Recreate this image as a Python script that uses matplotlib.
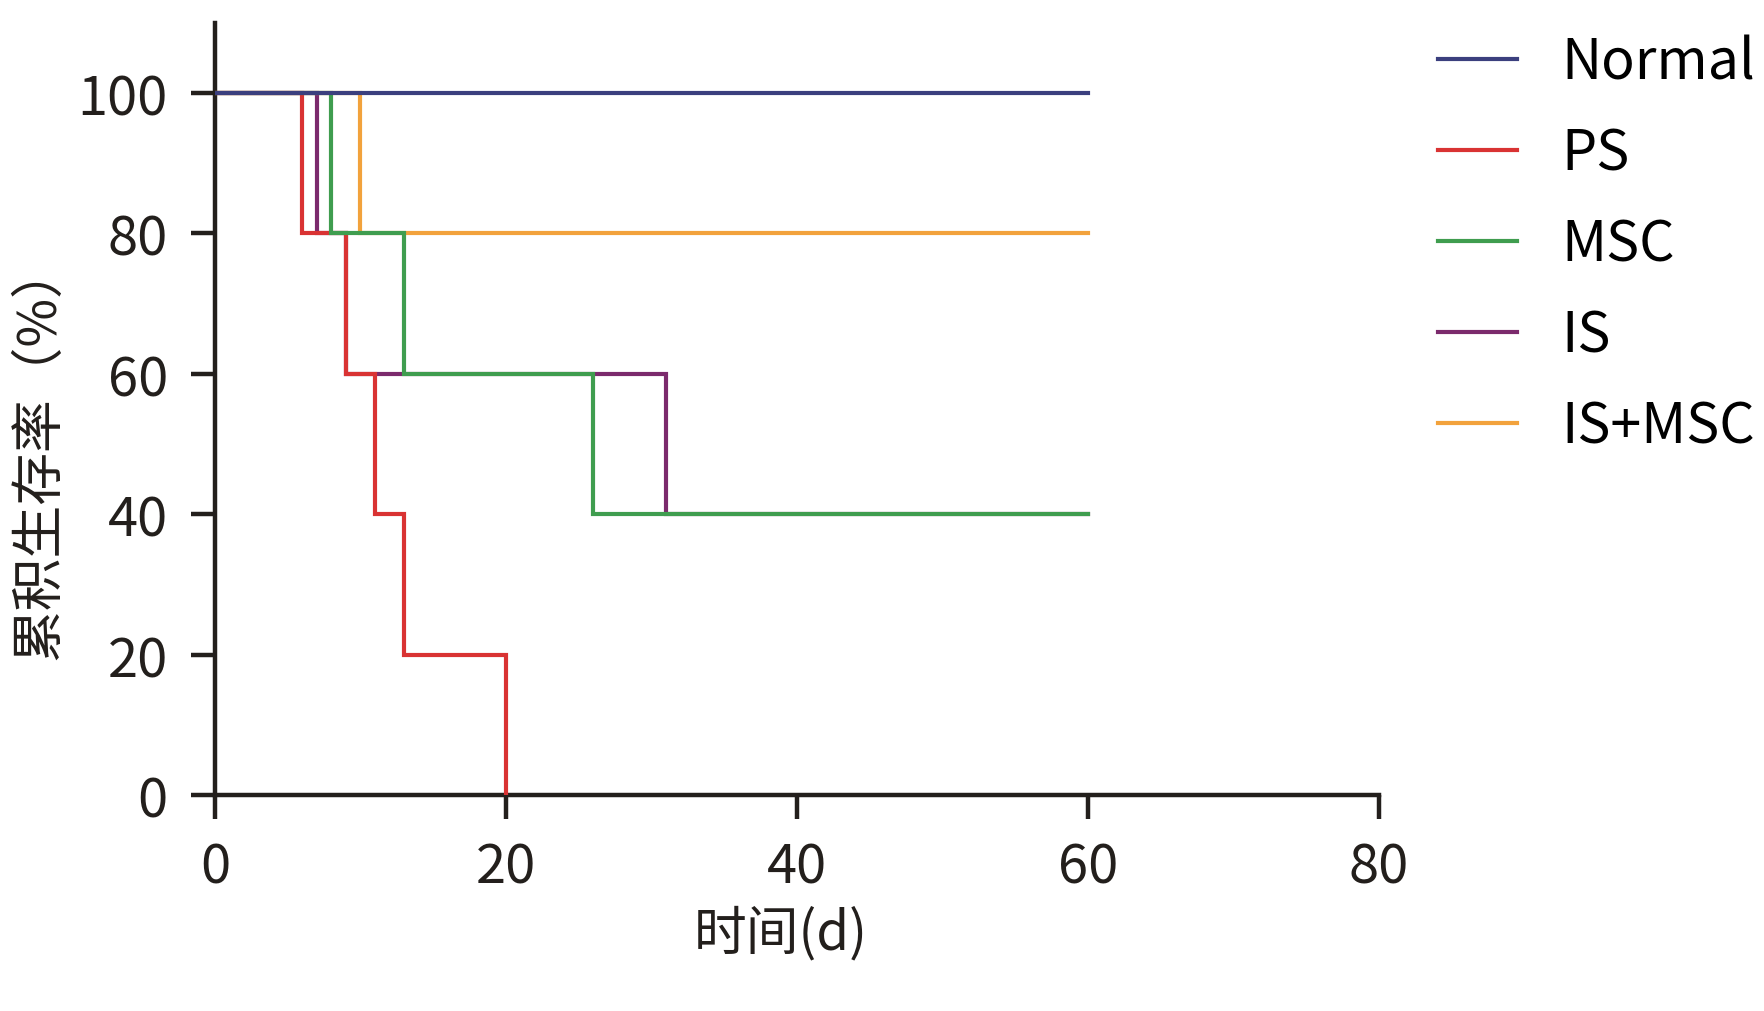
import matplotlib
matplotlib.use("Agg")
import matplotlib.pyplot as plt

plt.rcParams['font.family'] = ['Noto Sans CJK SC', 'DejaVu Sans']

# survival steps: (time, survival %) pairs
groups = ["Normal", "PS", "MSC", "IS", "IS+MSC"]
normal_t = [0, 60]
normal_s = [100, 100]
ps_t = [0, 6, 9, 11, 13, 20]
ps_s = [100, 80, 60, 40, 20, 0]
msc_t = [0, 8, 13, 26, 60]
msc_s = [100, 80, 60, 40, 40]
is_t = [0, 7, 9, 31, 60]
is_s = [100, 80, 60, 40, 40]
ismsc_t = [0, 10, 60]
ismsc_s = [100, 80, 80]

colors = {
    "Normal": "#3b3f7e",
    "PS": "#d93333",
    "MSC": "#3f9d4f",
    "IS": "#7b2a6c",
    "IS+MSC": "#f2a23c",
}

fig = plt.figure(figsize=(17.65, 10.12), dpi=100)
ax = fig.add_axes([0.1218, 0.2134, 0.6595, 0.763])

lw = 3.0
series = {
    "Normal": (normal_t, normal_s, 6),
    "PS": (ps_t, ps_s, 4),
    "MSC": (msc_t, msc_s, 5),
    "IS": (is_t, is_s, 2),
    "IS+MSC": (ismsc_t, ismsc_s, 3),
}
handles = []
for name in groups:
    t, s, z = series[name]
    h, = ax.step(t, s, where="post", color=colors[name], lw=lw, zorder=z,
                 solid_joinstyle="miter", label=name)
    handles.append(h)

ax.set_xlim(0, 80)
ax.set_ylim(0, 110)
ax.set_xticks([0, 20, 40, 60, 80])
ax.set_yticks([0, 20, 40, 60, 80, 100])
ax.spines["top"].set_visible(False)
ax.spines["right"].set_visible(False)
for sp in ("left", "bottom"):
    ax.spines[sp].set_linewidth(3.2)
    ax.spines[sp].set_color("#231f1c")
ax.tick_params(axis="both", direction="out", length=17, width=3.2,
               color="#231f1c", labelsize=39, labelcolor="#231f1c")
ax.tick_params(axis="x", pad=15)
ax.tick_params(axis="y", pad=17)

ax.set_xlabel("时间(d)", fontsize=38, color="#231f1c")
ax.set_ylabel("累积生存率（%）", fontsize=38, color="#231f1c")
ax.xaxis.set_label_coords(0.486, -0.143)
ax.yaxis.set_label_coords(-0.128, 0.447)

ax.legend(handles=handles, loc="upper left", bbox_to_anchor=(1.032, 1.014),
          frameon=False, fontsize=40, handlelength=1.42, handletextpad=0.8,
          labelspacing=0.6, borderaxespad=0)

fig.savefig("out.png", dpi=100)
